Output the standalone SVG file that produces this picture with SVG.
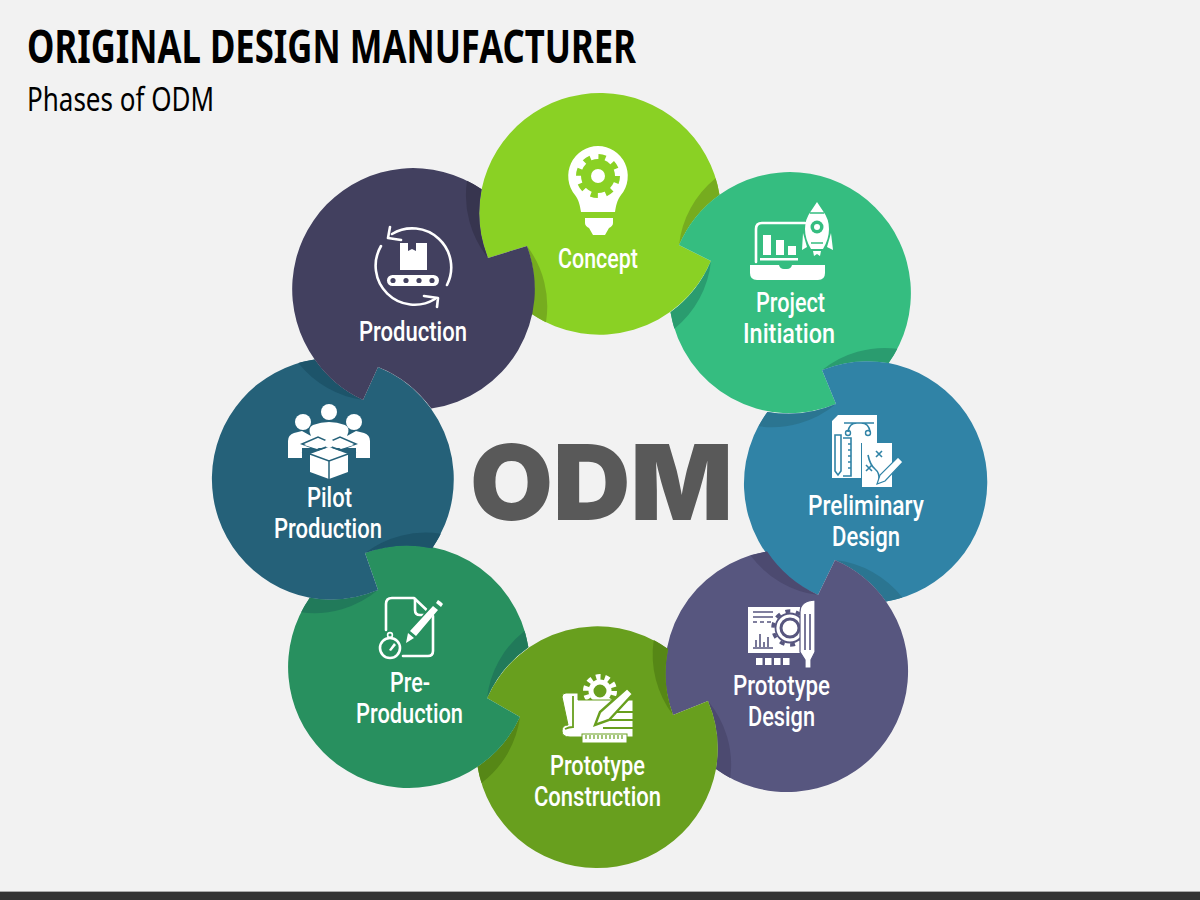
<svg xmlns="http://www.w3.org/2000/svg" width="1200" height="900" viewBox="0 0 1200 900">
<style>
.t{font-family:"Noto Sans","Liberation Sans",sans-serif;fill:#000}
.l{font-family:Roboto,"Noto Sans","Liberation Sans",sans-serif;font-size:27px;font-weight:500;fill:#fff}
.w{fill:#fff}
.ws{fill:none;stroke:#fff;stroke-width:2.6;stroke-linecap:round;stroke-linejoin:round}
</style>
<rect width="1200" height="900" fill="#f2f2f2"/>
<rect y="891" width="1200" height="9" fill="#333"/>
<rect y="891" width="1200" height="1" fill="#a8a8a8"/>
<text class="t" x="27" y="63" font-size="46" font-weight="700" textLength="609" lengthAdjust="spacingAndGlyphs">ORIGINAL DESIGN MANUFACTURER</text>
<text class="t" x="27" y="111" font-size="32" textLength="187" lengthAdjust="spacingAndGlyphs">Phases of ODM</text>
<text x="470" y="520" font-family="Inter,'DejaVu Sans',sans-serif" font-weight="900" font-size="105" fill="#595959" textLength="263" lengthAdjust="spacingAndGlyphs">ODM</text>

<g id="concept">
<path fill="#8ad124" d="M481.6 189.3A121 121 0 0 1 719.5 194.7A121 121 0 0 0 679 245L711 261A121 121 0 0 1 531.4 313.7A121 121 0 0 0 527 246L488 258A121 121 0 0 1 481.6 189.3Z"/>
<path fill="#76ac1f" d="M715.6 178.3A121 121 0 0 1 719.5 194.7A121 121 0 0 0 679 245A100 100 0 0 1 715.6 178.3Z"/>
<path fill="#76ac1f" d="M527 246A121 121 0 0 1 531.4 313.7A121 121 0 0 0 546 322.2A100 100 0 0 0 527 246Z"/>
<path class="w" d="M598 146a30 30 0 0 1 23 49c-4 5-5 11-6 17h-34c-1-6-2-12-6-17a30 30 0 0 1 23-49z"/>
<path class="w" d="M585 218h28v5q0 3-4 5l-4 7h-12l-4-7q-4-2-4-5z"/>
<circle cx="598" cy="176" r="17" fill="#8ad124"/>
<circle cx="598" cy="176" r="19" fill="none" stroke="#8ad124" stroke-width="6" stroke-dasharray="7 7.9"/>
<circle cx="598" cy="176" r="7" class="w"/>
<text class="l" x="558" y="268" textLength="80" lengthAdjust="spacingAndGlyphs">Concept</text>
</g>

<g id="project-initiation">
<path fill="#35bd80" d="M719.5 194.7A121 121 0 0 1 888.6 363.1A121 121 0 0 0 822 370L836 404A121 121 0 0 1 670.5 312.3A121 121 0 0 0 711 261L679 245A121 121 0 0 1 719.5 194.7Z"/>
<path fill="#2a9c6f" d="M897.3 348.7A121 121 0 0 1 888.6 363.1A121 121 0 0 0 822 370A100 100 0 0 1 897.3 348.7Z"/>
<path fill="#2a9c6f" d="M711 261A121 121 0 0 1 670.5 312.3A121 121 0 0 0 674.4 328.7A100 100 0 0 0 711 261Z"/>
<path class="ws" d="M756 262V229q0-6 6-6H805"/>
<rect class="w" x="763" y="235" width="8" height="20"/><rect class="w" x="776" y="240" width="8" height="15"/><rect class="w" x="788" y="246" width="8" height="9"/>
<rect class="w" x="760" y="258" width="38" height="2.5"/>
<path class="w" d="M750 265H779q1 4 5 4h3q4 0 5-4H825V273q0 7-7 7H757q-7 0-7-7z"/>
<path class="w" d="M817 202l6 9q6 8 6 18t-6 20h-12q-6-10-6-20t6-18z"/>
<path fill="none" stroke="#35bd80" stroke-width="1.4" d="M810 213H824M811 243H823"/>
<circle cx="817" cy="227" r="6.5" fill="#35bd80"/><circle cx="817" cy="227" r="3" class="w"/>
<path class="w" d="M803 233l-1 17 5-3zM831 233l2 17-6-3zM813 251h8l-1 5-3-2-3 2z"/>
<text class="l" x="756" y="312" textLength="69" lengthAdjust="spacingAndGlyphs">Project</text>
<text class="l" x="743" y="343" textLength="92" lengthAdjust="spacingAndGlyphs">Initiation</text>
</g>

<g id="preliminary-design">
<path fill="#3083a6" d="M888.6 363.1A121 121 0 0 1 886 601.4A121 121 0 0 0 835 560L818 595A121 121 0 0 1 767.4 411.9A121 121 0 0 0 836 404L822 370A121 121 0 0 1 888.6 363.1Z"/>
<path fill="#2b7591" d="M902.4 597.4A121 121 0 0 1 886 601.4A121 121 0 0 0 835 560A100 100 0 0 1 902.4 597.4Z"/>
<path fill="#2b7591" d="M836 404A121 121 0 0 1 767.4 411.9A121 121 0 0 0 758.7 426.3A100 100 0 0 0 836 404Z"/>
<path class="w" d="M838 415H877V443H861V478H832V421z"/>
<path fill="none" stroke="#3083a6" stroke-width="1.6" d="M848 432q1-9 9-9h4q8 0 9 9M844 423h30"/>
<circle cx="848" cy="433" r="2.5" fill="none" stroke="#3083a6" stroke-width="1.4"/><circle cx="868" cy="433" r="2.5" fill="none" stroke="#3083a6" stroke-width="1.4"/>
<path fill="none" stroke="#3083a6" stroke-width="1.6" d="M835 435h6v36l-3 4-3-4zM843 438h8v38h-8M851 444h-3M851 450h-3M851 456h-3M851 462h-3M851 468h-3"/>
<path class="w" d="M862 443H892V487H862z"/>
<path fill="none" stroke="#3083a6" stroke-width="1.6" d="M868 455q2 10 7 14t4 12M876 451l6 6M882 451l-6 6M866 465l6 6M872 465l-6 6"/>
<path class="w" d="M898 457l5 5-18 19-8 3 3-9z" stroke="#3083a6" stroke-width="1.2"/>
<text class="l" x="808" y="515" textLength="116" lengthAdjust="spacingAndGlyphs">Preliminary</text>
<text class="l" x="832" y="546" textLength="68" lengthAdjust="spacingAndGlyphs">Design</text>
</g>

<g id="prototype-design">
<path fill="#57567f" d="M886 601.4A121 121 0 0 1 716 769A121 121 0 0 0 708 701L673 715A121 121 0 0 1 767 551.6A121 121 0 0 0 818 595L835 560A121 121 0 0 1 886 601.4Z"/>
<path fill="#4c4a70" d="M730.3 777.9A121 121 0 0 1 716 769A121 121 0 0 0 708 701A100 100 0 0 1 730.3 777.9Z"/>
<path fill="#4c4a70" d="M818 595A121 121 0 0 1 767 551.6A121 121 0 0 0 750.6 555.6A100 100 0 0 0 818 595Z"/>
<path class="w" d="M748 607H800V653H748z"/>
<path fill="none" stroke="#57567f" stroke-width="1.6" d="M753 612H773M753 617H773M753 622H757M760 622H764M767 622H771M753 648H773M756 647V640M760 647V634M764 647V642M768 647V637"/>
<circle cx="790" cy="628" r="9" fill="none" stroke="#57567f" stroke-width="3"/>
<circle cx="790" cy="628" r="14.5" fill="none" stroke="#57567f" stroke-width="1.8"/>
<circle cx="790" cy="628" r="17" fill="none" stroke="#57567f" stroke-width="3.5" stroke-dasharray="5 5.7"/>
<path class="w" d="M800 612q0-11 15-12V652l-4 8v8h-6v-8l-5-8z" stroke="#57567f" stroke-width="1.2"/>
<path fill="none" stroke="#57567f" stroke-width="1.6" d="M805 614V650M810 614V650"/>
<rect class="w" x="756" y="658" width="6.5" height="7"/><rect class="w" x="765" y="658" width="6.5" height="7"/><rect class="w" x="774" y="658" width="6.5" height="7"/><rect class="w" x="783" y="658" width="6.5" height="7"/>
<text class="l" x="733" y="695" textLength="97" lengthAdjust="spacingAndGlyphs">Prototype</text>
<text class="l" x="748" y="726" textLength="67" lengthAdjust="spacingAndGlyphs">Design</text>
</g>

<g id="prototype-construction">
<path fill="#689f1e" d="M716 769A121 121 0 0 1 477.6 766.7A121 121 0 0 0 520 717L487 698A121 121 0 0 1 668 649A121 121 0 0 0 673 715L708 701A121 121 0 0 1 716 769Z"/>
<path fill="#568716" d="M481.5 783.1A121 121 0 0 1 477.6 766.7A121 121 0 0 0 520 717A100 100 0 0 1 481.5 783.1Z"/>
<path fill="#568716" d="M673 715A121 121 0 0 1 668 649A121 121 0 0 0 653.7 640.1A100 100 0 0 0 673 715Z"/>
<circle cx="600" cy="691" r="9" fill="none" stroke="#fff" stroke-width="5"/>
<circle cx="600" cy="691" r="14" fill="none" stroke="#fff" stroke-width="6" stroke-dasharray="4.5 4.3"/>
<path class="w" d="M562 697q0-4 4-4H578V700H633V737H570q-8 0-8-6t6-6z" stroke="#689f1e" stroke-width="1"/>
<path fill="none" stroke="#689f1e" stroke-width="1.8" d="M573 696V727q-4 0-8 2"/>
<path fill="none" stroke="#689f1e" stroke-width="2.2" d="M613 712H633M610 720H633M603 728H633"/>
<path class="w" d="M627 688l6 6-24 26-14 5 5-13z" stroke="#689f1e" stroke-width="2.4"/>
<rect class="w" x="582" y="734" width="45" height="9" stroke="#689f1e" stroke-width="1"/>
<path fill="none" stroke="#689f1e" stroke-width="1.2" d="M586 735v4M590 735v4M594 735v4M598 735v4M602 735v4M606 735v4M610 735v4M614 735v4M618 735v4M622 735v4"/>
<text class="l" x="550" y="775" textLength="95" lengthAdjust="spacingAndGlyphs">Prototype</text>
<text class="l" x="534" y="806" textLength="127" lengthAdjust="spacingAndGlyphs">Construction</text>
</g>

<g id="pre-production">
<path fill="#28905f" d="M477.6 766.7A121 121 0 0 1 309.8 597.8A121 121 0 0 0 378 590L365 553A121 121 0 0 1 528.4 647.3A121 121 0 0 0 487 698L520 717A121 121 0 0 1 477.6 766.7Z"/>
<path fill="#217a5a" d="M301.2 612.3A121 121 0 0 1 309.8 597.8A121 121 0 0 0 378 590A100 100 0 0 1 301.2 612.3Z"/>
<path fill="#217a5a" d="M487 698A121 121 0 0 1 528.4 647.3A121 121 0 0 0 524.5 630.9A100 100 0 0 0 487 698Z"/>
<path class="ws" d="M386 630V604q0-6 6-6H414L433 616V651q0 5-5 5H403"/>
<path class="ws" d="M415 599V610q0 5 5 5H431"/>
<path fill="#28905f" d="M441 606L412 640L408 644L404 640L434 600z"/>
<path class="w" d="M433 606l5 4-22 26-6-5zM408 633l6 5-8 5zM436 603l2-3 3 2 2 2-2 3z"/>
<circle cx="390" cy="648" r="10" fill="none" stroke="#fff" stroke-width="2.6"/>
<circle cx="390" cy="635" r="2.4" fill="none" stroke="#fff" stroke-width="1.6"/>
<path class="w" d="M394 643l2 2-5 6-2-1z"/>
<text class="l" x="390" y="692" textLength="40" lengthAdjust="spacingAndGlyphs">Pre-</text>
<text class="l" x="356" y="723" textLength="107" lengthAdjust="spacingAndGlyphs">Production</text>
</g>

<g id="pilot-production">
<path fill="#256179" d="M309.8 597.8A121 121 0 0 1 314.7 359.4A121 121 0 0 0 363 400L378 367A121 121 0 0 1 432.2 548.2A121 121 0 0 0 365 553L378 590A121 121 0 0 1 309.8 597.8Z"/>
<path fill="#1d546a" d="M298.3 363.1A121 121 0 0 1 314.7 359.4A121 121 0 0 0 363 400A100 100 0 0 1 298.3 363.1Z"/>
<path fill="#1d546a" d="M365 553A121 121 0 0 1 432.2 548.2A121 121 0 0 0 440.8 533.7A100 100 0 0 0 365 553Z"/>
<circle class="w" cx="329" cy="412" r="8"/><circle class="w" cx="303" cy="422" r="8"/><circle class="w" cx="354" cy="422" r="8"/>
<path class="w" d="M288 458V441q0-6 6-8l8-2 9 5q-4-8 2-11 8-3 16-3t16 3q6 3 2 11l9-5 8 2q6 2 6 8V458H356V448H302V458z"/>
<path class="w" d="M310 454l19-7 19 7v18l-19 7-19-7z"/>
<path fill="none" stroke="#256179" stroke-width="1.5" d="M310 454l19 7 19-7M329 461V479M302 444l16-7 11 5 11-5 16 7-16 6-11-4-11 4zM302 452l8 2M356 452l-8 2"/>
<path class="w" d="M304 445l14-6 10 4-11 6zM354 445l-14-6-10 4 11 6z"/>
<circle class="w" cx="329" cy="443" r="4.5"/>
<text class="l" x="307" y="507" textLength="45" lengthAdjust="spacingAndGlyphs">Pilot</text>
<text class="l" x="274" y="538" textLength="108" lengthAdjust="spacingAndGlyphs">Production</text>
</g>

<g id="production">
<path fill="#42405f" d="M314.7 359.4A121 121 0 0 1 481.6 189.3A121 121 0 0 0 488 258L527 246A121 121 0 0 1 431.3 408.6A121 121 0 0 0 378 367L363 400A121 121 0 0 1 314.7 359.4Z"/>
<path fill="#37354f" d="M467 180.8A121 121 0 0 1 481.6 189.3A121 121 0 0 0 488 258A100 100 0 0 1 467 180.8Z"/>
<path class="ws" d="M392 234A39 39 0 0 1 447 285"/>
<path class="ws" d="M381 246A39 39 0 0 0 435 299"/>
<path class="ws" stroke-width="3" d="M390 227L388 238L401 240M424 296L438 298L437 307"/>
<path class="w" d="M400 243h8v8l4-2 4 2v-8h11V270H400z"/>
<rect class="w" x="387" y="275" width="52" height="11" rx="5.5"/>
<circle cx="393" cy="280.5" r="2.6" fill="#42405f"/><circle cx="406" cy="280.5" r="2.6" fill="#42405f"/><circle cx="419" cy="280.5" r="2.6" fill="#42405f"/><circle cx="432" cy="280.5" r="2.6" fill="#42405f"/>
<text class="l" x="359" y="341" textLength="108" lengthAdjust="spacingAndGlyphs">Production</text>
</g>
</svg>
